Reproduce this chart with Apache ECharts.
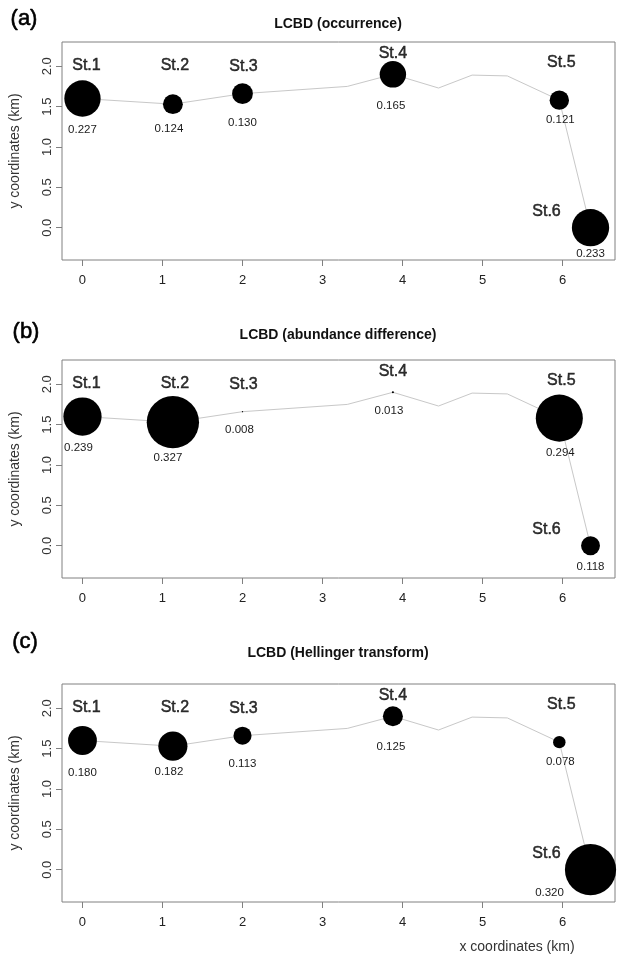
<!DOCTYPE html>
<html><head><meta charset="utf-8">
<script src="https://cdn.jsdelivr.net/npm/echarts@6/dist/echarts.min.js"></script>
<style>html,body{margin:0;padding:0;background:#fff}#c{width:617px;height:955px}</style>
</head><body><div id="c"></div>
<script>
// ---------- data ----------
const stationNames = ['St.1', 'St.2', 'St.3', 'St.4', 'St.5', 'St.6'];
const stationX = [0, 1.13, 2.0, 3.88, 5.96, 6.35];
const stationY = [1.60, 1.53, 1.66, 1.90, 1.58, 0.00];
const riverX = [0, 1.13, 2.0, 3.31, 3.88, 4.45, 4.87, 5.31, 5.96, 6.35];
const riverY = [1.60, 1.53, 1.66, 1.75, 1.90, 1.73, 1.89, 1.88, 1.58, 0.00];
const lcbdOccurrence = [0.227, 0.124, 0.130, 0.165, 0.121, 0.233];
const lcbdAbundance = [0.239, 0.327, 0.008, 0.013, 0.294, 0.118];
const lcbdHellinger = [0.180, 0.182, 0.113, 0.125, 0.078, 0.320];
const panelTitles = ['LCBD (occurrence)', 'LCBD (abundance difference)', 'LCBD (Hellinger transform)'];
const panelLetters = ['(a)', '(b)', '(c)'];
const xTicks = [0, 1, 2, 3, 4, 5, 6];
const yTicks = [0, 0.5, 1, 1.5, 2];
const yTickLabels = ['0.0', '0.5', '1.0', '1.5', '2.0'];
const yAxisTitle = 'y coordinates (km)';
const xAxisTitle = 'x coordinates (km)';

// ---------- layout ----------
const FONT = "'Liberation Sans', Arial, Helvetica, sans-serif";
const GRID_LEFT = 62, GRID_W = 553, GRID_H = 218;
const gridTops = [42, 360, 684];
const X_MIN = -0.256, X_MAX = 6.656, Y_MIN = -0.4, Y_MAX = 2.3;
const PX_PER_UNIT = GRID_W / (X_MAX - X_MIN);
const nameOffsets = [[4, -33], [2, -39], [1, -27], [0, -21], [2, -38], [-44, -16]];
const valueOffsets = [
  [[0, 31], [-4, 25], [0, 29], [-2, 32], [1, 20], [0, 26]],
  [[-4, 31], [-5, 36], [-3, 18], [-4, 19], [1, 35], [0, 21]],
  [[0, 32], [-4, 26], [0, 28], [-2, 31], [1, 20], [-41, 23]]
];
const letterPos = [[24, 19], [26, 332], [25, 642]];
const titlePos = [[338, 24], [338, 335], [338, 653]];

const panelValues = [lcbdOccurrence, lcbdAbundance, lcbdHellinger];

const grids = [], xAxes = [], yAxes = [], series = [], graphics = [];
panelValues.forEach((vals, p) => {
  grids.push({left: GRID_LEFT, top: gridTops[p], width: GRID_W, height: GRID_H,
    show: true, borderColor: '#808080', borderWidth: 1, backgroundColor: 'transparent'});
  xAxes.push({type: 'value', gridIndex: p, min: X_MIN, max: X_MAX, position: 'bottom',
    axisLine: {show: false, onZero: false}, splitLine: {show: false},
    axisTick: {show: true, length: 6, customValues: xTicks, lineStyle: {color: '#808080'}},
    axisLabel: {show: true, customValues: xTicks, margin: 14, color: '#222', fontSize: 13, fontFamily: FONT,
      formatter: v => String(v)}});
  yAxes.push({type: 'value', gridIndex: p, min: Y_MIN, max: Y_MAX, position: 'left',
    name: yAxisTitle, nameLocation: 'middle', nameGap: 40,
    nameTextStyle: {color: '#333', fontSize: 14, fontFamily: FONT},
    axisLine: {show: false, onZero: false}, splitLine: {show: false},
    axisTick: {show: true, length: 6, customValues: yTicks, lineStyle: {color: '#808080'}},
    axisLabel: {show: true, customValues: yTicks, rotate: 90, margin: 8, color: '#333', fontSize: 13, fontFamily: FONT,
      formatter: v => yTickLabels[yTicks.indexOf(v)] ?? String(v)}});
  series.push({type: 'line', xAxisIndex: p, yAxisIndex: p, silent: true, symbol: 'none',
    lineStyle: {color: '#c8c8c8', width: 1}, z: 1,
    data: riverX.map((x, i) => [x, riverY[i]])});
  series.push({type: 'scatter', xAxisIndex: p, yAxisIndex: p, clip: false, z: 3,
    symbolSize: d => 2 * d[2] * PX_PER_UNIT,
    itemStyle: {color: '#000', opacity: 1},
    data: stationX.map((x, i) => ({value: [x, stationY[i], vals[i]],
      label: {show: true, position: 'inside', offset: valueOffsets[p][i],
        formatter: vals[i].toFixed(3), color: '#1a1a1a', fontSize: 11.5, fontFamily: FONT}}))});
  series.push({type: 'scatter', xAxisIndex: p, yAxisIndex: p, clip: false, z: 4,
    symbolSize: 0, itemStyle: {color: 'transparent'},
    data: stationX.map((x, i) => ({value: [x, stationY[i]],
      label: {show: true, position: 'inside', offset: nameOffsets[i],
        formatter: stationNames[i], color: '#000', fontSize: 16, fontFamily: FONT,
        textBorderColor: '#000', textBorderWidth: 0.5}}))});
  graphics.push({type: 'text', x: letterPos[p][0], y: letterPos[p][1],
    style: {text: panelLetters[p], font: '22px ' + FONT, fill: '#000', textAlign: 'center', textVerticalAlign: 'middle',
      stroke: '#000', lineWidth: 0.6}});
  graphics.push({type: 'text', x: titlePos[p][0], y: titlePos[p][1],
    style: {text: panelTitles[p], font: 'bold 14px ' + FONT, fill: '#111', textAlign: 'center', textVerticalAlign: 'middle'}});
});
graphics.push({type: 'text', x: 517, y: 947,
  style: {text: xAxisTitle, font: '14px ' + FONT, fill: '#333', textAlign: 'center', textVerticalAlign: 'middle'}});

const chart = echarts.init(document.getElementById('c'), null, {renderer: 'canvas'});
chart.setOption({animation: false, backgroundColor: '#fff', grid: grids, xAxis: xAxes, yAxis: yAxes, series: series, graphic: graphics});
</script></body></html>
